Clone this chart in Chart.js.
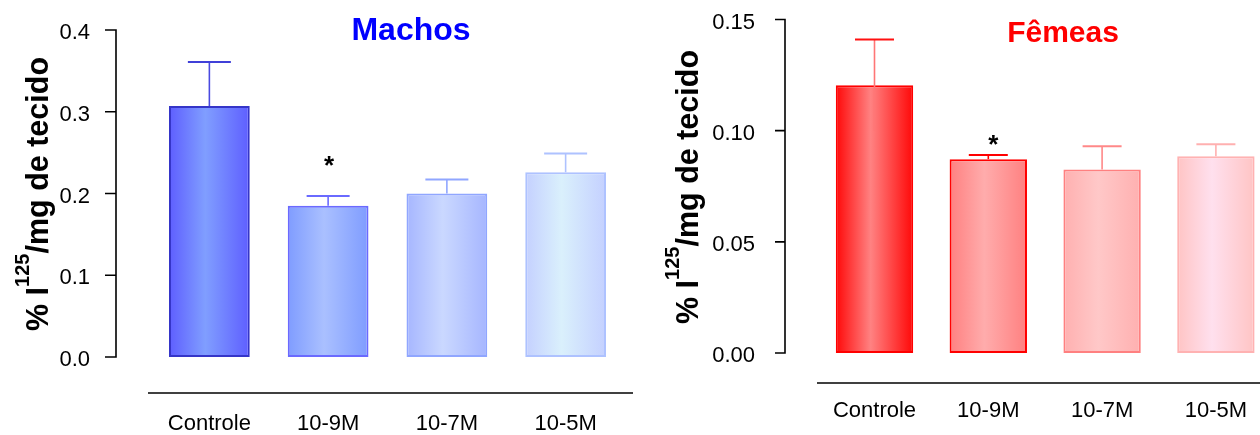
<!DOCTYPE html>
<html>
<head>
<meta charset="utf-8">
<script src="https://cdn.jsdelivr.net/npm/chart.js@4.4.1/dist/chart.umd.min.js"></script>
<style>
  html, body { margin: 0; padding: 0; background: #fff; width: 1260px; height: 435px; overflow: hidden; }
  #wrap { position: relative; width: 1260px; height: 435px; overflow: hidden; }
  .panel { position: absolute; top: 0; width: 640px; height: 435px; }
  #panelM { left: 0; }
  #panelF { left: 640px; }
</style>
</head>
<body>
<div id="wrap">
  <div class="panel" id="panelM"><canvas id="chartM" width="640" height="435"></canvas></div>
  <div class="panel" id="panelF"><canvas id="chartF" width="640" height="435"></canvas></div>
</div>
<script>
// ---- data ----
const categories = ['Controle', '10-9M', '10-7M', '10-5M'];

// Machos: mean and standard error of % I125 per mg of tissue
const machosMean = [0.307, 0.185, 0.200, 0.226];
const machosErrUp = [0.054, 0.012, 0.017, 0.023];
const machosErrDown = [0, 0, 0, 0];
const machosTickValues = [0, 0.1, 0.2, 0.3, 0.4];
const machosTickLabels = ['0.0', '0.1', '0.2', '0.3', '0.4'];

// Fêmeas: mean and standard error
const femeasMean = [0.1204, 0.0872, 0.0825, 0.0885];
const femeasErrUp = [0.0206, 0.0019, 0.0105, 0.0054];
const femeasErrDown = [0.0204, 0, 0, 0];
const femeasTickValues = [0, 0.05, 0.10, 0.15];
const femeasTickLabels = ['0.00', '0.05', '0.10', '0.15'];

// p < 0.05 vs Controle
const significant = [false, true, false, false];

// ---- styling ----
const FONT = "'Liberation Sans', Arial, Helvetica, sans-serif";
Chart.defaults.font.family = FONT;
Chart.defaults.color = '#000';

const machosStyle = {
  border: ['#3535c8', '#6a6aff', '#90a6ff', '#aec2ff'],
  edge:   ['#5e5eff', '#7f9cff', '#a6b6ff', '#c4d0ff'],
  middle: ['#809eff', '#aac0ff', '#cad8ff', '#daf0fc'],
  whisker:['#4040d8', '#6a6aff', '#90a6ff', '#aec2ff'],
  stem:   ['#4a4ae0', '#6a6aff', '#90a6ff', '#aec2ff'],
  title: 'Machos', titleColor: '#0000ff', titleSize: 32, titleX: 411, titleY: 40,
  axisX: 116, tickLen: 11, xAxisY: 393, xAxisL: 148, xAxisR: 633,
  yTitleX: 48, yTitleStart: 331, starGap: 22, starDx: 1
};
const femeasStyle = {
  border: ['#ff0000', '#ff0000', '#ff8080', '#ffb2b2'],
  edge:   ['#ff0808', '#ff8080', '#ffb0b0', '#ffc4c4'],
  middle: ['#ff8282', '#ffacac', '#ffc8c8', '#ffe0ee'],
  whisker:['#ff1010', '#ff0000', '#ff8888', '#ffb0b0'],
  stem:   ['#ff7676', '#ff0000', '#ff8888', '#ffb0b0'],
  title: 'Fêmeas', titleColor: '#ff0000', titleSize: 30, titleX: 423, titleY: 42,
  axisX: 145, tickLen: 10, xAxisY: 383, xAxisL: 177, xAxisR: 640,
  yTitleX: 58, yTitleStart: 324, starGap: 2, starDx: 5
};

// Draws whiskers, significance mark, detached axes and titles
const decorations = {
  id: 'decorations',
  afterDatasetsDraw(chart, args, opts) {
    const ctx = chart.ctx;
    const y = chart.scales.y;
    const meta = chart.getDatasetMeta(0);
    const s = opts.style;
    meta.data.forEach((bar, i) => {
      const v = opts.mean[i];
      const cx = bar.x;
      const yBar = y.getPixelForValue(v);
      const yTop = y.getPixelForValue(v + opts.errUp[i]);
      ctx.save();
      ctx.lineCap = 'butt';
      // stem
      ctx.strokeStyle = s.stem[i];
      ctx.lineWidth = 1.6;
      ctx.beginPath();
      ctx.moveTo(cx, yBar);
      ctx.lineTo(cx, yTop);
      if (opts.errDown[i] > 0) {
        ctx.moveTo(cx, yBar);
        ctx.lineTo(cx, y.getPixelForValue(v - opts.errDown[i]));
      }
      ctx.stroke();
      // cap
      ctx.strokeStyle = s.whisker[i];
      ctx.lineWidth = 2;
      ctx.beginPath();
      ctx.moveTo(cx - opts.capHalf, yTop);
      ctx.lineTo(cx + opts.capHalf, yTop);
      ctx.stroke();
      // significance
      if (significant[i]) {
        ctx.fillStyle = '#000';
        ctx.font = 'bold 26px ' + FONT;
        ctx.textAlign = 'center';
        ctx.textBaseline = 'alphabetic';
        ctx.fillText('*', cx + s.starDx, yTop - s.starGap);
      }
      ctx.restore();
    });
  },
  afterDraw(chart, args, opts) {
    const ctx = chart.ctx;
    const y = chart.scales.y;
    const s = opts.style;
    ctx.save();
    ctx.strokeStyle = '#000';
    ctx.lineWidth = 1.6;
    // y axis line and tick marks
    const yMin = y.getPixelForValue(y.min);
    const yMax = y.getPixelForValue(y.max);
    ctx.beginPath();
    ctx.moveTo(s.axisX, yMin + 0.8);
    ctx.lineTo(s.axisX, yMax - 0.8);
    y.ticks.forEach(t => {
      const py = y.getPixelForValue(t.value);
      ctx.moveTo(s.axisX - s.tickLen, py);
      ctx.lineTo(s.axisX, py);
    });
    ctx.stroke();
    // category axis line
    ctx.beginPath();
    ctx.moveTo(s.xAxisL, s.xAxisY);
    ctx.lineTo(s.xAxisR, s.xAxisY);
    ctx.stroke();

    // panel title
    ctx.fillStyle = s.titleColor;
    ctx.font = 'bold ' + s.titleSize + 'px ' + FONT;
    ctx.textAlign = 'center';
    ctx.textBaseline = 'alphabetic';
    ctx.fillText(s.title, s.titleX, s.titleY);

    // rotated y title with superscript
    ctx.translate(s.yTitleX, s.yTitleStart);
    ctx.rotate(-Math.PI / 2);
    ctx.fillStyle = '#000';
    ctx.textAlign = 'left';
    const main = 'bold 30.5px ' + FONT;
    const sup = 'bold 20px ' + FONT;
    let xPos = 0;
    ctx.font = main;
    ctx.fillText('% I', xPos, 0);
    xPos += ctx.measureText('% I').width;
    ctx.font = sup;
    ctx.fillText('125', xPos, -19);
    xPos += ctx.measureText('125').width;
    ctx.font = main;
    ctx.fillText('/mg de tecido', xPos, 0);
    ctx.restore();
  }
};

// the label gaps only move the labels, they must not shrink the plot area
function clearScalePadding(sc) {
  sc.paddingTop = 0; sc.paddingBottom = 0;
  sc.paddingLeft = 0; sc.paddingRight = 0;
}

function makeChart(canvasId, mean, errUp, errDown, tickValues, tickLabels, style, geo) {
  const barFrac = 0.68;
  return new Chart(document.getElementById(canvasId), {
    type: 'bar',
    data: {
      labels: categories,
      datasets: [{
        data: mean,
        borderWidth: 2,
        borderSkipped: false,
        borderColor: ctx => style.border[ctx.dataIndex] || style.border[0],
        backgroundColor: ctx => {
          const i = ctx.dataIndex;
          if (i === undefined) return style.edge[0];
          const x = ctx.chart.scales.x;
          const cx = x ? x.getPixelForTick(i) : NaN;
          const w = x ? x.width / categories.length * barFrac : NaN;
          if (!isFinite(cx) || !isFinite(w) || w <= 0) return style.edge[i];
          const g = ctx.chart.ctx.createLinearGradient(cx - w / 2, 0, cx + w / 2, 0);
          g.addColorStop(0, style.edge[i]);
          g.addColorStop(0.45, style.middle[i]);
          g.addColorStop(1, style.edge[i]);
          return g;
        },
        categoryPercentage: 1,
        barPercentage: barFrac
      }]
    },
    options: {
      responsive: false,
      animation: false,
      events: [],
      layout: { padding: { left: 0, top: geo.top, right: geo.right, bottom: 0 } },
      plugins: {
        legend: { display: false },
        tooltip: { enabled: false },
        decorations: { style, mean, errUp, errDown, capHalf: geo.capHalf }
      },
      scales: {
        x: {
          grid: { display: false, drawTicks: false },
          border: { display: false },
          ticks: { font: { size: 22 }, color: '#000', padding: geo.xPad, maxRotation: 0, autoSkip: false },
          afterFit: sc => { sc.height = geo.xHeight; clearScalePadding(sc); }
        },
        y: {
          min: tickValues[0],
          max: tickValues[tickValues.length - 1],
          grid: { display: false, drawTicks: false },
          border: { display: false },
          afterBuildTicks: sc => { sc.ticks = tickValues.map(v => ({ value: v })); },
          ticks: {
            font: { size: 22 }, color: '#000', padding: geo.yPad, labelOffset: 3,
            callback: (v, i) => tickLabels[i]
          },
          afterFit: sc => { sc.width = geo.yWidth; clearScalePadding(sc); }
        }
      }
    },
    plugins: [decorations]
  });
}

makeChart('chartM', machosMean, machosErrUp, machosErrDown, machosTickValues, machosTickLabels, machosStyle,
  { top: 30, right: 15, xHeight: 78, yWidth: 150, yPad: 60, xPad: 54, capHalf: 21.5 });
makeChart('chartF', femeasMean, femeasErrUp, femeasErrDown, femeasTickValues, femeasTickLabels, femeasStyle,
  { top: 19.5, right: 7.2, xHeight: 82, yWidth: 177.6, yPad: 62.6, xPad: 45, capHalf: 19.5 });
</script>
</body>
</html>
